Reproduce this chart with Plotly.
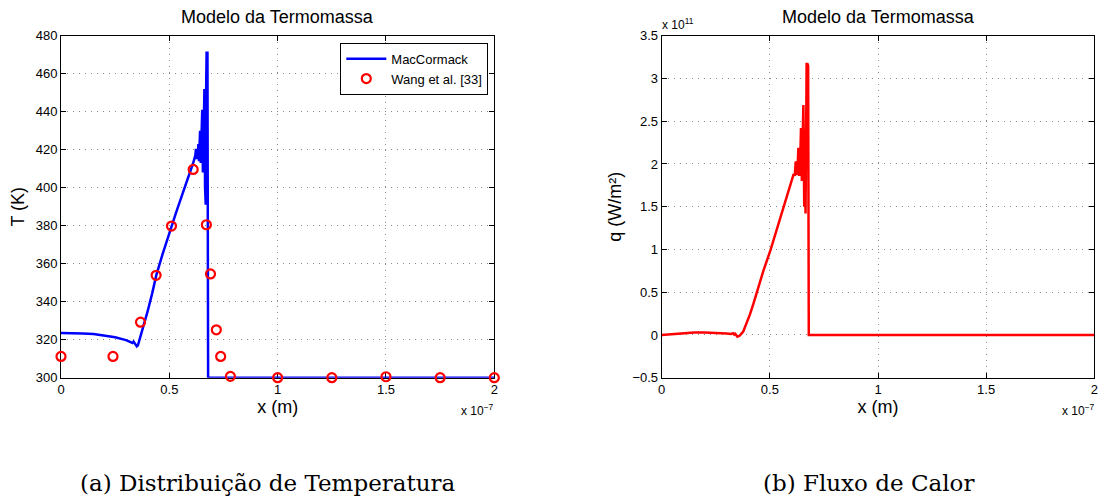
import plotly.graph_objects as go

# ---- Data (x in units of 1e-7 m) ----
x_T = [0, 0.05, 0.1, 0.15, 0.2, 0.25, 0.3, 0.32, 0.33, 0.335, 0.34, 0.345, 0.35, 0.355, 0.36,
       0.38, 0.40, 0.42, 0.44, 0.47, 0.50, 0.53, 0.56, 0.59, 0.61, 0.62,
       0.623, 0.626, 0.629, 0.632, 0.634, 0.637, 0.640, 0.642, 0.645, 0.648, 0.652, 0.655,
       0.658, 0.662, 0.665, 0.667, 0.668, 0.670, 0.672, 0.676, 0.679, 0.70, 1.0, 1.5, 2.0]
T_mac = [323.5, 323.5, 323.3, 323.0, 322.3, 321.3, 319.8, 319.0, 318.3, 319.0, 318.3, 317.2, 316.5, 317.0, 319.0,
         326, 335, 344, 354, 365.5, 376.5, 386.5, 396.5, 406, 413, 417,
         420.5, 415, 419, 416, 423, 414, 428, 430, 413, 436, 441, 408,
         444, 452, 400, 449, 391, 452, 471, 471, 300, 300, 300, 300, 300]

x_wang = [0, 0.24, 0.367, 0.439, 0.51, 0.61, 0.671, 0.69, 0.717, 0.737, 0.782, 1.0, 1.25, 1.5, 1.75, 2.0]
T_wang = [311.2, 311.2, 329.2, 353.9, 379.8, 409.6, 380.5, 354.6, 325.2, 311.2, 300.7, 300, 300, 300.5, 300, 300]

# heat flux (q in units of 1e11 W/m^2)
x_q = [0, 0.05, 0.1, 0.15, 0.2, 0.25, 0.3, 0.32, 0.33, 0.335, 0.34, 0.35, 0.36,
       0.377, 0.393, 0.408, 0.4235, 0.439, 0.47, 0.504, 0.535, 0.565, 0.585, 0.601, 0.61,
       0.615, 0.62, 0.624, 0.628, 0.632, 0.636, 0.640, 0.644, 0.648, 0.652, 0.655, 0.659,
       0.662, 0.665, 0.668, 0.670, 0.674, 0.677, 0.680, 0.69, 1.0, 1.5, 2.0]
q_mac = [0, 0.012, 0.022, 0.028, 0.03, 0.027, 0.018, 0.012, 0.02, 0.005, 0.015, -0.02, -0.01,
         0.04, 0.136, 0.24, 0.36, 0.49, 0.75, 1.0, 1.25, 1.5, 1.65, 1.8, 1.88,
         1.86, 2.03, 1.87, 1.95, 2.19, 1.86, 2.0, 2.42, 1.8, 2.2, 2.69, 1.5,
         2.4, 1.42, 2.6, 3.17, 3.17, 3.15, 0.0, 0, 0, 0, 0]

x_ticks = [0, 0.5, 1, 1.5, 2]
x_ticklabels = ["0", "0.5", "1", "1.5", "2"]
T_ticks = [300, 320, 340, 360, 380, 400, 420, 440, 460, 480]
q_ticks = [-0.5, 0, 0.5, 1, 1.5, 2, 2.5, 3, 3.5]
q_ticklabels = ["\u22120.5", "0", "0.5", "1", "1.5", "2", "2.5", "3", "3.5"]

W, H = 1104, 500
SANS = "Liberation Sans, Arial, sans-serif"
SERIF = "DejaVu Serif, serif"

fig = go.Figure()
fig.add_trace(go.Scatter(x=x_T, y=T_mac, mode="lines", name="MacCormack",
                         line=dict(color="#0000ff", width=2.5), cliponaxis=False,
                         xaxis="x", yaxis="y"))
fig.add_trace(go.Scatter(x=x_wang, y=T_wang, mode="markers", name="Wang et al. [33]",
                         marker=dict(symbol="circle-open", size=9, color="#ff0000",
                                     line=dict(color="#ff0000", width=2.2)),
                         cliponaxis=False, xaxis="x", yaxis="y"))
fig.add_trace(go.Scatter(x=x_q, y=q_mac, mode="lines", name="q",
                         line=dict(color="#ff0000", width=2.5), cliponaxis=False,
                         showlegend=False, xaxis="x2", yaxis="y2"))

def px2fx(p):
    return p / W

def py2fy(p):
    return 1 - p / H

axis_common = dict(showline=True, linecolor="black", linewidth=1, mirror="ticks",
                   ticks="inside", ticklen=5, tickcolor="black", tickwidth=1,
                   showgrid=True, gridcolor="#8c8c8c", griddash="1px,5px", gridwidth=1,
                   zeroline=False, tickfont=dict(family=SANS, size=13, color="black"),
                   layer="below traces", automargin=False)

fig.update_layout(
    width=W, height=H,
    margin=dict(l=0, r=0, t=0, b=0, autoexpand=False),
    paper_bgcolor="white", plot_bgcolor="white",
    xaxis=dict(domain=[px2fx(61), px2fx(494.3)], range=[0, 2], anchor="y",
               tickvals=x_ticks, ticktext=x_ticklabels,
               title=dict(text="x (m)", font=dict(family=SANS, size=18, color="black"), standoff=4),
               **axis_common),
    yaxis=dict(domain=[py2fy(377.7), py2fy(35.7)], range=[300, 480], anchor="x",
               tickvals=T_ticks,
               title=dict(text="T (K)", font=dict(family=SANS, size=18, color="black"), standoff=6),
               **axis_common),
    xaxis2=dict(domain=[px2fx(661.7), px2fx(1094.3)], range=[0, 2], anchor="y2",
                tickvals=x_ticks, ticktext=x_ticklabels,
                title=dict(text="x (m)", font=dict(family=SANS, size=18, color="black"), standoff=4),
                **axis_common),
    yaxis2=dict(domain=[py2fy(377.7), py2fy(35.7)], range=[-0.5, 3.5], anchor="x2",
                tickvals=q_ticks, ticktext=q_ticklabels,
                title=dict(text="q (W/m\u00b2)", font=dict(family=SANS, size=18, color="black"), standoff=6),
                **axis_common),
    legend=dict(x=px2fx(488.3), y=py2fy(42.7), xanchor="right", yanchor="top",
                bgcolor="white", bordercolor="black", borderwidth=1,
                font=dict(family=SANS, size=13, color="black"),
                tracegroupgap=0, itemwidth=40),
    showlegend=True,
)

ann = [
    dict(text="Modelo da Termomassa", x=px2fx(277.6), y=py2fy(17), xanchor="center", yanchor="middle",
         font=dict(family=SANS, size=18, color="black")),
    dict(text="Modelo da Termomassa", x=px2fx(878), y=py2fy(17), xanchor="center", yanchor="middle",
         font=dict(family=SANS, size=18, color="black")),
    dict(text="x 10<sup>\u22127</sup>", x=px2fx(496), y=py2fy(410), xanchor="right", yanchor="middle",
         font=dict(family=SANS, size=12, color="black")),
    dict(text="x 10<sup>\u22127</sup>", x=px2fx(1097), y=py2fy(410), xanchor="right", yanchor="middle",
         font=dict(family=SANS, size=12, color="black")),
    dict(text="x 10<sup>11</sup>", x=px2fx(660), y=py2fy(24), xanchor="left", yanchor="middle",
         font=dict(family=SANS, size=12, color="black")),
    dict(text="(a) Distribui\u00e7\u00e3o de Temperatura", x=px2fx(268), y=py2fy(483),
         xanchor="center", yanchor="middle", font=dict(family=SERIF, size=23, color="black")),
    dict(text="(b) Fluxo de Calor", x=px2fx(868), y=py2fy(483),
         xanchor="center", yanchor="middle", font=dict(family=SERIF, size=23, color="black")),
]
for a in ann:
    a.update(xref="paper", yref="paper", showarrow=False)
fig.update_layout(annotations=ann)

fig.write_html("out.html")
